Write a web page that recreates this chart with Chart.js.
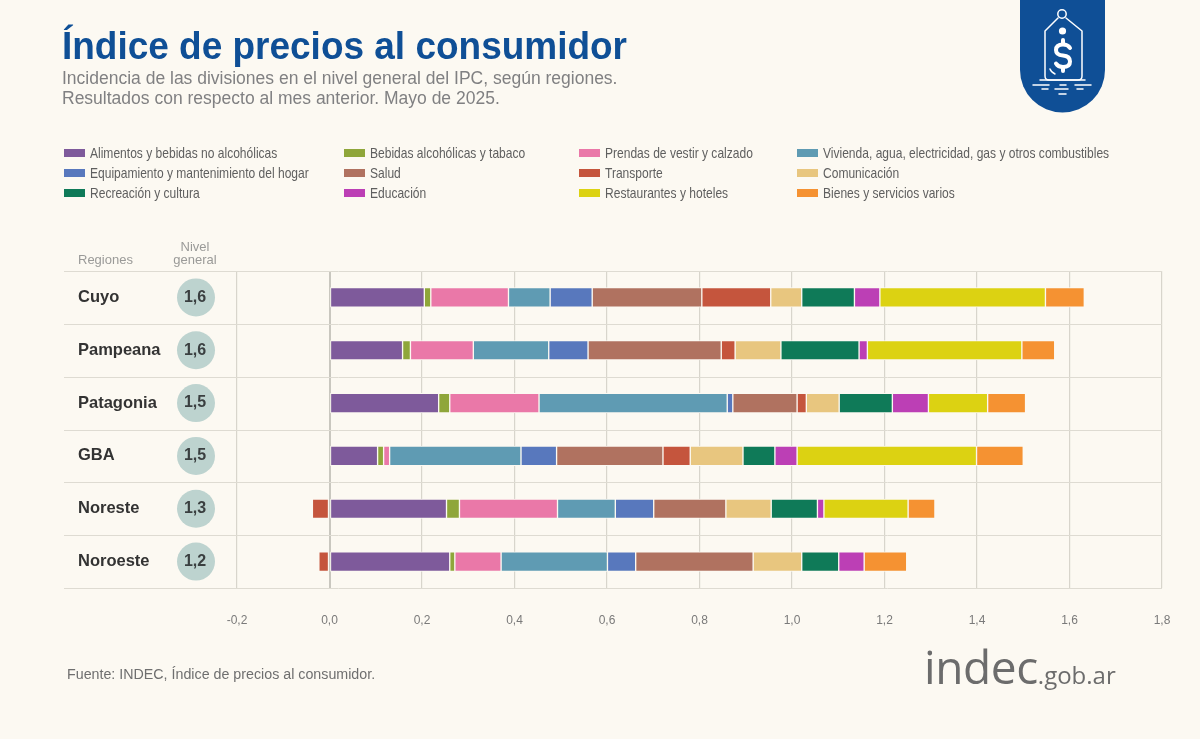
<!DOCTYPE html>
<html lang="es">
<head>
<meta charset="utf-8">
<title>Índice de precios al consumidor</title>
<script src="https://cdn.jsdelivr.net/npm/chart.js@4/dist/chart.umd.min.js"></script>
<style>
html,body{margin:0;padding:0;background:#fcf9f2;width:1200px;height:739px;overflow:hidden;font-family:"Liberation Sans",Arial,sans-serif}
#c{position:absolute;left:0;top:0}
.t{position:absolute;white-space:nowrap}
#title{left:62px;top:22px;font-size:39px;line-height:48px;font-weight:700;color:#0f4f96;transform:scaleX(.948);transform-origin:0 0}
#sub{left:62px;top:68px;font-size:17.5px;line-height:20px;color:#808082}
#src{left:67px;top:666px;font-size:14.25px;line-height:16px;color:#6f6f6f}
#h1{left:78px;top:253px;font-size:13px;line-height:14px;color:#9a9a98}
#h2{left:165px;top:240px;width:60px;text-align:center;font-size:13px;line-height:13px;color:#9a9a98}
.sw{position:absolute;width:21px;height:8px}
.lg{position:absolute;white-space:nowrap;font-size:14.5px;line-height:16px;color:#5f5f5f;transform:scaleX(.83);transform-origin:0 0}
#logo{position:absolute;left:1020px;top:0}
#indec{left:924px;top:638px;font-family:"Open Sans",sans-serif;font-size:46px;line-height:56px;color:#6c6c6c;letter-spacing:-.4px}
#indec span{font-size:24px;letter-spacing:0}
</style>
</head>
<body>
<canvas id="c" width="1200" height="739"></canvas>
<div class="t" id="title">Índice de precios al consumidor</div>
<div class="t" id="sub">Incidencia de las divisiones en el nivel general del IPC, según regiones.<br>Resultados con respecto al mes anterior. Mayo de 2025.</div>
<div class="t" id="h1">Regiones</div>
<div class="t" id="h2">Nivel<br>general</div>
<div class="t" id="src">Fuente: INDEC, Índice de precios al consumidor.</div>
<div class="t" id="indec">indec<span>.gob.ar</span></div>
<svg id="logo" width="85" height="113" viewBox="0 0 85 113">
  <path d="M0 0H85V70A42.5 42.5 0 0 1 0 70Z" fill="#0f4f96"/>
  <g fill="none" stroke="#fff" stroke-width="1.5" stroke-linecap="round" stroke-linejoin="round">
    <circle cx="42" cy="14" r="4.2"/>
    <path d="M38 18 L25 31 V76 Q25 80 29 80 H58 Q62 80 62 76 V31 L46 18"/>
    <path d="M30 69 Q31 72 35 74"/>
    <path d="M20 80H65M13 85H29M40 85H46M55 85H71M22 89H28M35 89H48M57 89H63M39 94H46"/>
  </g>
  <circle cx="42.5" cy="31" r="3.6" fill="#fff"/>
  <g fill="none" stroke="#fff" stroke-width="4" stroke-linecap="round" stroke-linejoin="round">
    <path d="M50 48 Q48 44.5 43 44.5 Q36 44.5 36 50 Q36 55 43 55.5 Q50 56 50 61.5 Q50 67 43 67 Q38 67 36 63.5"/>
    <path d="M43 40V44M43 67V71"/>
  </g>
</svg>
<div id="legend"></div>
<script>
const regiones = ["Cuyo","Pampeana","Patagonia","GBA","Noreste","Noroeste"];
const nivelGeneral = ["1,6","1,6","1,5","1,5","1,3","1,2"];
const xTickLabels = ["-0,2","0,0","0,2","0,4","0,6","0,8","1,0","1,2","1,4","1,6","1,8"];

const alimentos    = [0.205,0.158,0.236,0.104,0.253,0.260];
const bebidas      = [0.014,0.017,0.024,0.013,0.028,0.011];
const prendas      = [0.168,0.136,0.193,0.013,0.212,0.100];
const vivienda     = [0.090,0.163,0.407,0.284,0.125,0.230];
const equipamiento = [0.091,0.085,0.012,0.077,0.083,0.061];
const salud        = [0.237,0.288,0.139,0.230,0.156,0.254];
const transporte   = [0.149,0.030,0.020,0.059,-0.037,-0.023];
const comunicacion = [0.067,0.099,0.071,0.114,0.098,0.105];
const recreacion   = [0.114,0.169,0.115,0.069,0.100,0.080];
const educacion    = [0.055,0.018,0.078,0.048,0.014,0.055];
const restaurantes = [0.358,0.334,0.128,0.388,0.182,null];
const bienes       = [0.084,0.071,0.082,0.101,0.058,0.092];

const nombres = ["Alimentos y bebidas no alcohólicas","Bebidas alcohólicas y tabaco","Prendas de vestir y calzado","Vivienda, agua, electricidad, gas y otros combustibles","Equipamiento y mantenimiento del hogar","Salud","Transporte","Comunicación","Recreación y cultura","Educación","Restaurantes y hoteles","Bienes y servicios varios"];
const colores = ["#7e5a9b","#8fa63a","#ea78a8","#5f9bb3","#5878bd","#b07260","#c5553d","#e8c67f","#0f7a58","#bc3fb5","#dcd212","#f59232"];
const series = [alimentos,bebidas,prendas,vivienda,equipamiento,salud,transporte,comunicacion,recreacion,educacion,restaurantes,bienes];

// HTML legend
const colX = [64,344,579,797], rowY = [153,173,193];
const lg = document.getElementById("legend");
nombres.forEach((n,i)=>{
  const cx = colX[i%4], cy = rowY[Math.floor(i/4)];
  const s = document.createElement("div"); s.className="sw";
  s.style.cssText=`left:${cx}px;top:${cy-4}px;background:${colores[i]}`;
  const t = document.createElement("div"); t.className="lg"; t.textContent=n;
  t.style.cssText=`left:${cx+25.5}px;top:${cy-8}px`;
  lg.append(s,t);
});

const GRID_H="#dedbd2", GRID_V="#d8d5cc";
const extras = {
  id:"extras",
  beforeDatasetsDraw(chart){
    const {ctx,chartArea:a}=chart;
    ctx.save(); ctx.strokeStyle=GRID_H; ctx.lineWidth=1;
    const step=(a.bottom-a.top)/regiones.length;
    for(let i=0;i<=regiones.length;i++){
      const py=Math.round(a.top+i*step)+.5;
      ctx.beginPath();ctx.moveTo(64,py);ctx.lineTo(a.right,py);ctx.stroke();
    }
    ctx.restore();
  },
  afterDatasetsDraw(chart){
    const {ctx,scales:{y}}=chart;
    ctx.save();
    nivelGeneral.forEach((v,i)=>{
      const py=y.getPixelForTick(i);
      ctx.fillStyle="#bdd3cf";
      ctx.beginPath();ctx.arc(196,py,19,0,Math.PI*2);ctx.fill();
      ctx.fillStyle="#3a3f40";ctx.font='bold 16px "Liberation Sans"';
      ctx.textAlign="center";ctx.textBaseline="middle";
      ctx.fillText(v,195,py);
    });
    ctx.restore();
  }
};

new Chart(document.getElementById("c"),{
  type:"bar",
  data:{labels:regiones,datasets:series.map((d,i)=>({
    label:nombres[i],data:d,backgroundColor:colores[i],
    borderColor:"#fcf9f2",borderWidth:1,borderSkipped:false,barThickness:19.5
  }))},
  plugins:[extras],
  options:{
    indexAxis:"y",responsive:false,animation:false,devicePixelRatio:1,
    layout:{padding:{left:78,top:271,right:38,bottom:111}},
    plugins:{legend:{display:false},tooltip:{enabled:false}},
    scales:{
      x:{
        type:"linear",stacked:true,min:-0.2,max:1.8,
        afterFit(s){s.height=40},
        afterBuildTicks(s){s.ticks=xTickLabels.map((_,i)=>({value:-0.2+0.2*i}))},
        border:{display:false},
        grid:{drawTicks:false,
          color:c=>Math.abs(c.tick.value)<1e-6?"#c9c7bf":GRID_V,
          lineWidth:c=>Math.abs(c.tick.value)<1e-6?2:1.2},
        ticks:{autoSkip:false,maxRotation:0,padding:25,color:"#7a7a7a",font:{family:"Liberation Sans",size:12},
          callback:(v,i)=>xTickLabels[i]}
      },
      y:{
        stacked:true,
        afterFit(s){s.width=159},
        border:{display:false},
        grid:{display:false,drawTicks:false},
        ticks:{crossAlign:"far",color:"#333",padding:0,font:{family:"Liberation Sans",size:16.5,weight:"bold"}}
      }
    }
  }
});
</script>
</body>
</html>
